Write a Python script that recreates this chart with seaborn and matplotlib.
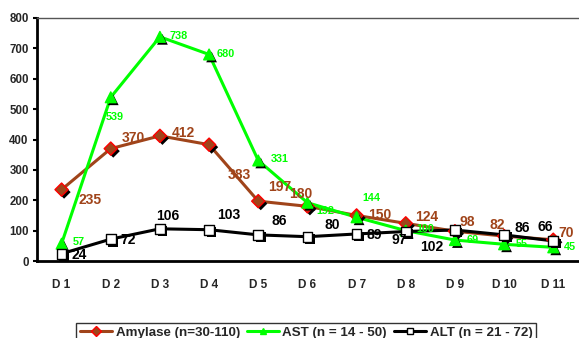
import pandas as pd
import matplotlib
matplotlib.use("Agg")
import matplotlib.pyplot as plt
import matplotlib.patheffects as pe
from matplotlib.lines import Line2D
import seaborn as sns

# -----------------------------
# data
# -----------------------------
days = ["D 1", "D 2", "D 3", "D 4", "D 5", "D 6", "D 7", "D 8", "D 9", "D 10", "D 11"]
amylase = [235, 370, 412, 383, 197, 180, 150, 124, 98, 82, 70]
ast = [57, 539, 738, 680, 331, 192, 144, 100, 69, 55, 45]
alt = [24, 72, 106, 103, 86, 80, 89, 97, 102, 86, 66]

series_names = ["Amylase (n=30-110)", "AST (n = 14 - 50)", "ALT (n = 21 - 72)"]

# label offsets in pixels (dx, dy)
amy_off = [(28, -10), (23, 11), (23, 3), (30, -30), (21, 14), (-7, 12),
           (23, 0), (21, 6), (12, 9), (-7, 11), (13, 7)]
ast_off = [(17, 2), (4, -20), (19, 1), (17, 0), (21, 1), (18, -8),
           (15, 19), (20, 2), (18, 0), (18, 0), (17, 0)]
alt_off = [(18, -1), (17, -1), (8, 13), (20, 15), (21, 14), (25, 12),
           (18, -1), (-7, -8), (-23, -17), (18, 7), (-8, 14)]

brown = "#A0441A"
green = "#00FF00"

sns.set_style("white")
plt.rcParams["font.family"] = ["Liberation Sans", "DejaVu Sans"]
plt.rcParams["font.weight"] = "bold"

fig = plt.figure(figsize=(5.79, 3.38), dpi=100)
ax = fig.add_axes([37 / 579, 77 / 338, 1 - 37 / 579 - 0.002, (261 - 18) / 338])

df = pd.DataFrame({"day": days, "amylase": amylase, "ast": ast, "alt": alt})

shadow = [pe.SimplePatchShadow(offset=(1.8, -1.8), shadow_rgbFace="black", alpha=1), pe.Normal()]

styles = [
    ("amylase", brown, "D", brown, "red", amy_off, brown, 10, 45),
    ("ast", green, "^", green, green, ast_off, green, 7.8, 60),
    ("alt", "black", "s", "white", "black", alt_off, "black", 10, 50),
]

handles = []
for (col, lc, mk, mfc, mec, offs, tc, fs, ms), name in zip(styles, series_names):
    sns.lineplot(data=df, x="day", y=col, ax=ax, color=lc, linewidth=2.2, sort=False)
    sns.scatterplot(data=df, x="day", y=col, ax=ax, marker=mk, s=ms, color=mfc,
                    edgecolor=mec, linewidth=1, zorder=3)
    ax.collections[-1].set_path_effects(shadow)
    for d, v, (dx, dy) in zip(days, df[col], offs):
        ax.annotate(str(v), (d, v), xytext=(dx, dy), textcoords="offset pixels",
                    ha="center", va="center", color=tc, fontsize=fs, fontweight="bold",
                    zorder=4)
    handles.append(Line2D([], [], color=lc, linewidth=2.2, marker=mk, markersize=5,
                          markerfacecolor=mfc, markeredgecolor=mec, label=name))

ax.set_xlim(-0.5, 10.5)
ax.set_ylim(0, 800)
ax.set_yticks(range(0, 801, 100))
ax.set_xlabel("")
ax.set_ylabel("")

ax.set_xticks([i + 0.5 for i in range(-1, 11)], minor=True)
ax.tick_params(axis="x", which="major", length=0, pad=13, labelsize=8.5)
ax.tick_params(axis="x", which="minor", length=3, width=1.5, direction="out", color="black")
ax.tick_params(axis="y", length=3, width=1.5, direction="out", color="black", labelsize=8.3, pad=3)
ax.tick_params(bottom=True, left=True)
for lab in ax.get_xticklabels() + ax.get_yticklabels():
    lab.set_fontweight("bold")

ax.spines["right"].set_visible(False)
ax.spines["top"].set_color("#555555")
ax.spines["top"].set_linewidth(1)
for s in ["left", "bottom"]:
    ax.spines[s].set_linewidth(2)
    ax.spines[s].set_color("black")

leg = fig.legend(handles=handles, loc="upper center", bbox_to_anchor=(306 / 579, 1 - 316 / 338),
                 ncol=3, frameon=True, fancybox=False, fontsize=9.6, handlelength=2.4,
                 handletextpad=0.3, columnspacing=0.5, borderpad=0.3, edgecolor="black")
leg.get_frame().set_linewidth(1)
for t in leg.get_texts():
    t.set_fontweight("bold")

fig.savefig("out.png", dpi=100)
